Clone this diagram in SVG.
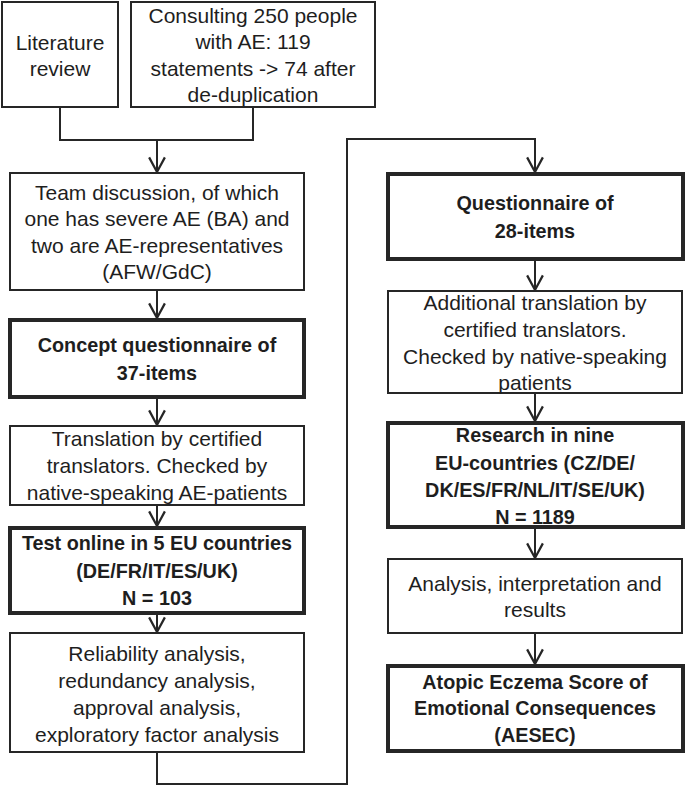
<svg xmlns="http://www.w3.org/2000/svg" width="685" height="787" viewBox="0 0 685 787">
<defs>
<style>
.box{fill:#fff;stroke:#262626;stroke-width:2}
.thick{fill:#fff;stroke:#262626;stroke-width:4}
.t{font-family:"Liberation Sans",Arial,sans-serif;font-size:21px;fill:#1e1e1e;text-anchor:middle}
.b{font-family:"Liberation Sans",Arial,sans-serif;font-size:19.8px;font-weight:bold;fill:#1e1e1e;text-anchor:middle}
.c{fill:none;stroke:#262626;stroke-width:2}
</style>
<marker id="arr" markerUnits="userSpaceOnUse" markerWidth="18" markerHeight="18" viewBox="0 0 16 16" refX="14" refY="8" orient="auto" overflow="visible">
<path d="M1,1 L14,8 L1,15" fill="none" stroke="#262626" stroke-width="2"/>
</marker>
</defs>
<rect width="685" height="787" fill="#fff"/>
<g id="connectors">
<path class="c" d="M60,107 V140 H253 V107"/>
<path class="c" d="M157,140 V172" marker-end="url(#arr)"/>
<path class="c" d="M157,290 V318" marker-end="url(#arr)"/>
<path class="c" d="M157,397 V425" marker-end="url(#arr)"/>
<path class="c" d="M157,505 V526" marker-end="url(#arr)"/>
<path class="c" d="M157,613 V632" marker-end="url(#arr)"/>
<path class="c" d="M157,752 V784 H347 V139 H535 V172" marker-end="url(#arr)"/>
<path class="c" d="M535,259 V290" marker-end="url(#arr)"/>
<path class="c" d="M535,393 V421" marker-end="url(#arr)"/>
<path class="c" d="M535,527 V558" marker-end="url(#arr)"/>
<path class="c" d="M535,633 V664" marker-end="url(#arr)"/>
</g>
<g id="literature">
<rect class="box" x="2" y="2" width="116" height="105"/>
<text class="t" x="60" y="50">Literature</text>
<text class="t" x="60" y="76">review</text>
</g>
<g id="consulting">
<rect class="box" x="131" y="2" width="244" height="105"/>
<text class="t" x="253" y="22.5">Consulting 250 people</text>
<text class="t" x="253" y="48.5">with AE: 119</text>
<text class="t" x="253" y="76">statements -&gt; 74 after</text>
<text class="t" x="253" y="101.5">de-duplication</text>
</g>
<g id="team">
<rect class="box" x="10" y="173" width="294" height="117"/>
<text class="t" x="157" y="199.5">Team discussion, of which</text>
<text class="t" x="157" y="226">one has severe AE (BA) and</text>
<text class="t" x="157" y="252.5">two are AE-representatives</text>
<text class="t" x="157" y="279">(AFW/GdC)</text>
</g>
<g id="concept">
<rect class="thick" x="10" y="320" width="294" height="77"/>
<text class="b" x="157" y="352">Concept questionnaire of</text>
<text class="b" x="157" y="379.5">37-items</text>
</g>
<g id="translation">
<rect class="box" x="10" y="426" width="294" height="79"/>
<text class="t" x="157" y="446">Translation by certified</text>
<text class="t" x="157" y="472.5">translators. Checked by</text>
<text class="t" x="157" y="499.5">native-speaking AE-patients</text>
</g>
<g id="test">
<rect class="thick" x="10" y="528" width="294" height="85"/>
<text class="b" x="157" y="550">Test online in 5 EU countries</text>
<text class="b" x="157" y="577.5">(DE/FR/IT/ES/UK)</text>
<text class="b" x="157" y="605">N = 103</text>
</g>
<g id="reliability">
<rect class="box" x="10" y="633" width="294" height="119"/>
<text class="t" x="157" y="661">Reliability analysis,</text>
<text class="t" x="157" y="687.5">redundancy analysis,</text>
<text class="t" x="157" y="714.5">approval analysis,</text>
<text class="t" x="157" y="741.5">exploratory factor analysis</text>
</g>
<g id="questionnaire">
<rect class="thick" x="388" y="174" width="295" height="85"/>
<text class="b" x="535" y="210">Questionnaire of</text>
<text class="b" x="535" y="237.5">28-items</text>
</g>
<g id="additional">
<rect class="box" x="388" y="291" width="294" height="102"/>
<text class="t" x="535" y="310">Additional translation by</text>
<text class="t" x="535" y="337">certified translators.</text>
<text class="t" x="535" y="364">Checked by native-speaking</text>
<text class="t" x="535" y="390">patients</text>
</g>
<g id="research">
<rect class="thick" x="388" y="423" width="295" height="104"/>
<text class="b" x="535" y="442">Research in nine</text>
<text class="b" x="535" y="469.5">EU-countries (CZ/DE/</text>
<text class="b" x="535" y="496.5">DK/ES/FR/NL/IT/SE/UK)</text>
<text class="b" x="535" y="523.5">N = 1189</text>
</g>
<g id="analysis">
<rect class="box" x="388" y="559" width="294" height="74"/>
<text class="t" x="535" y="590.5">Analysis, interpretation and</text>
<text class="t" x="535" y="617">results</text>
</g>
<g id="aesec">
<rect class="thick" x="388" y="666" width="295" height="85"/>
<text class="b" x="535" y="688.5">Atopic Eczema Score of</text>
<text class="b" x="535" y="715">Emotional Consequences</text>
<text class="b" x="535" y="742">(AESEC)</text>
</g>
</svg>
